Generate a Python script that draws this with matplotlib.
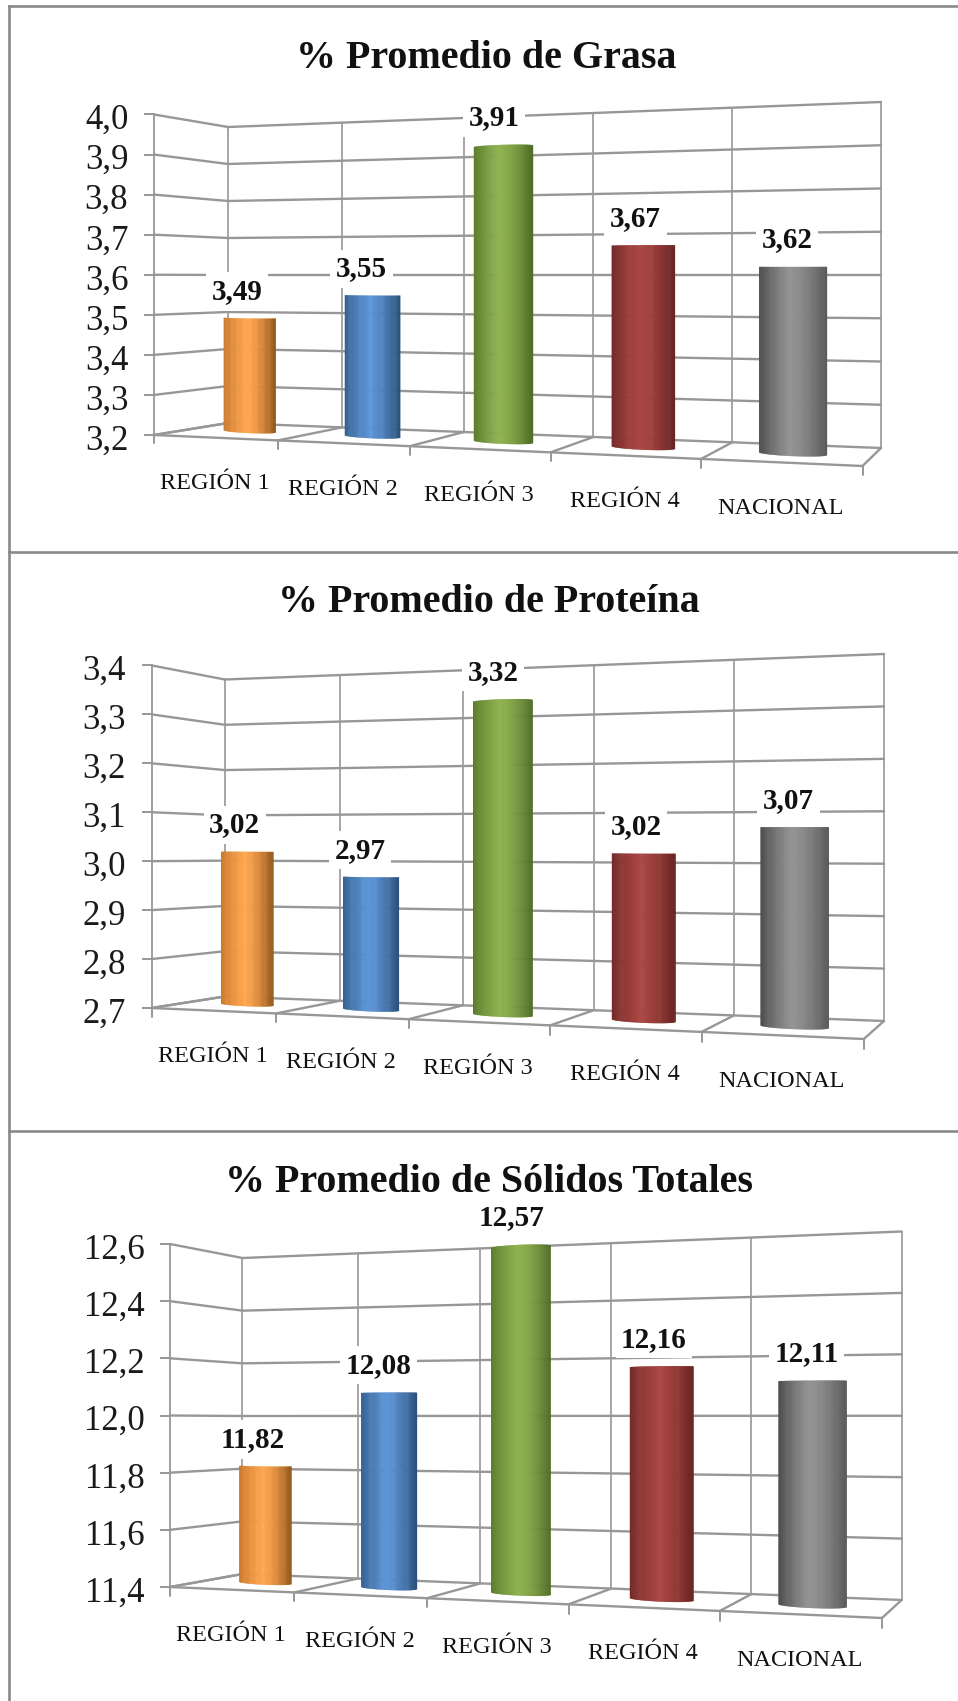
import numpy as np
import matplotlib
matplotlib.use("Agg")
import matplotlib.pyplot as plt
from matplotlib.transforms import Transform, ScaledTranslation

# ---------- data ----------
categories = ["REGIÓN 1", "REGIÓN 2", "REGIÓN 3", "REGIÓN 4", "NACIONAL"]
grasa = [3.49, 3.55, 3.91, 3.67, 3.62]
proteina = [3.02, 2.97, 3.32, 3.02, 3.07]
solidos = [11.82, 12.08, 12.57, 12.16, 12.11]
grasa_ticks = [3.2, 3.3, 3.4, 3.5, 3.6, 3.7, 3.8, 3.9, 4.0]
proteina_ticks = [2.7, 2.8, 2.9, 3.0, 3.1, 3.2, 3.3, 3.4]
solidos_ticks = [11.4, 11.6, 11.8, 12.0, 12.2, 12.4, 12.6]
titles = ["% Promedio de Grasa", "% Promedio de Proteína", "% Promedio de Sólidos Totales"]

# ---------- style ----------
W, H = 958, 1701
GRID = "#979797"
BORDER = "#8a8a8a"
FONT = "Liberation Serif"
# left edge, highlight, right edge of each cylinder
bar_shades = [
    ("#c9772c", "#ffa64f", "#935719"),
    ("#33608f", "#5d95d6", "#2b4f7a"),
    ("#5a7a2c", "#8fb350", "#4f6a24"),
    ("#742a28", "#aa4643", "#672422"),
    ("#4a4a4a", "#949494", "#5a5a5a"),
]
PERSPECTIVE = 1.18
BAR_WIDTH = 0.435
BAR_DEPTH = 0.5
BAR_RADIUS = 0.14
LABEL_DEPTH = 0.65

boxes = [
    dict(xfl=154, yfb=435, yft=114.5, xbl=228, ybb=423, ybt=127,
         xbr=881, ybb2=448, ybt2=102, xfr=862.5, yfb2=466,
         title_xy=(486.5, 59)),
    dict(xfl=151.5, yfb=1008, yft=665.4, xbl=224.8, ybb=996.5, ybt=679.5,
         xbr=884, ybb2=1021, ybt2=654, xfr=863.8, yfb2=1039,
         title_xy=(489, 603)),
    dict(xfl=170, yfb=1587, yft=1244, xbl=242.5, ybb=1574, ybt=1258,
         xbr=901.6, ybb2=1600, ybt2=1231.5, xfr=882, yfb2=1618,
         title_xy=(488.5, 1182.5)),
]


class Persp(Transform):
    """(category position, value) at a given depth -> figure fraction.
    With cat set, the input is (depth, value) on that category's plane."""
    input_dims = 2
    output_dims = 2

    def __init__(self, box, vmin, vmax, dx=0.0, dy=None, cat=None):
        super().__init__()
        self.b, self.vmin, self.vmax = box, vmin, vmax
        self.dx, self.dy, self.cat = dx, (dx if dy is None else dy), cat

    def transform_non_affine(self, xy):
        xy = np.asarray(xy, float)
        b = self.b
        a, val = xy[:, 0], xy[:, 1]
        if self.cat is None:
            c = a
            dx, dy = self.dx, self.dy
        else:
            c = np.full_like(a, self.cat)
            dx = dy = a
        t = c / 5.0
        u = t / (t + PERSPECTIVE * (1 - t))
        x_back = b["xbl"] + (b["xbr"] - b["xbl"]) * u
        x_front = b["xfl"] + (b["xfr"] - b["xfl"]) * u
        x = x_back + (x_front - x_back) * dx
        ratio = (b["yfb"] - b["yft"]) / (b["ybb"] - b["ybt"]) + 0.012
        yft2 = b["yfb2"] - ratio * (b["ybb2"] - b["ybt2"])
        bot_back = b["ybb"] + (b["ybb2"] - b["ybb"]) * u
        top_back = b["ybt"] + (b["ybt2"] - b["ybt"]) * u
        bot_front = b["yfb"] + (b["yfb2"] - b["yfb"]) * u
        top_front = b["yft"] + (yft2 - b["yft"]) * u
        bot = bot_back + (bot_front - bot_back) * dy
        top = top_back + (top_front - top_back) * dy
        f = (val - self.vmin) / (self.vmax - self.vmin)
        y = bot + (top - bot) * f
        return np.column_stack([x / W, 1 - y / H])


def hex2rgb(h):
    return np.array(matplotlib.colors.to_rgb(h))


def shade(s, cols):
    """s in [-1, 1] across the cylinder."""
    c0, c1, c2 = (hex2rgb(c) for c in cols)
    peak = -0.1
    if s < peak:
        f = (s + 1) / (peak + 1)
        return c0 + (c1 - c0) * f ** 0.8
    f = (s - peak) / (1 - peak)
    return c1 + (c2 - c1) * f ** 1.5


fig = plt.figure(figsize=(W / 100, H / 100), dpi=100, facecolor="white")


def draw_panel(box, values, ticks, title):
    vmin, vmax = ticks[0], ticks[-1]
    ax = fig.add_axes([box["xfl"] / W, 1 - box["yfb"] / H,
                       (box["xbr"] - box["xfl"]) / W, (box["yfb"] - box["yft"]) / H])
    ax.patch.set_visible(False)
    ax.set_xlim(0, 5)
    ax.set_ylim(vmin, vmax)
    for side in ("top", "right", "bottom"):
        ax.spines[side].set_visible(False)
    ax.spines["left"].set_color(GRID)
    ax.spines["left"].set_linewidth(1.3)
    ax.set_xticks([])
    ax.set_yticks(ticks, [f"{v:.1f}".replace(".", ",") for v in ticks])
    ax.tick_params(axis="y", length=7, width=1.4, color=GRID, pad=11.5,
                   labelsize=25, labelcolor="#1a1a1a")
    nudge = ScaledTranslation(0, -1.5 / 72, fig.dpi_scale_trans)
    for lab in ax.get_yticklabels():
        lab.set_fontfamily(FONT)
        lab.set_transform(lab.get_transform() + nudge)

    def T(dx=0.0, dy=None, cat=None):
        return Persp(box, vmin, vmax, dx, dy, cat) + fig.transFigure

    line = dict(color=GRID, clip_on=False, zorder=1, solid_capstyle="round")
    for v in ticks:
        ax.plot([0, 5], [v, v], lw=1.7, transform=T(0.0), **line)
        ax.plot([1, 0], [v, v], lw=1.7, transform=T(cat=0), **line)
    for i in range(6):
        ax.plot([i, i], [vmin, vmax], lw=1.2, transform=T(0.0), **line)
        ax.plot([0, 1], [vmin, vmin], lw=1.7, transform=T(cat=i), **line)
        ax.plot([i, i], [vmin, vmin - 0.025 * (vmax - vmin)], lw=1.4,
                transform=T(1.0), **line)
    ax.plot([0, 5], [vmin, vmin], lw=1.7, transform=T(1.0), **line)

    n = 60
    for i, (val, cols) in enumerate(zip(values, bar_shades)):
        center = i + 0.5
        for k in range(n):
            s = -1 + (k + 0.5) * 2 / n
            off = s * BAR_WIDTH / 2
            depth = BAR_DEPTH + BAR_RADIUS * np.sqrt(max(1 - s * s, 0))
            ax.bar(center + off, val - vmin, bottom=vmin,
                   width=BAR_WIDTH / n * 1.6, color=[shade(s, cols)], linewidth=0,
                   transform=T(BAR_DEPTH, depth), clip_on=False, zorder=3, snap=False)
        ax.annotate(f"{val:.2f}".replace(".", ","), xy=(center, val),
                    xycoords=T(LABEL_DEPTH), xytext=(-2, 27),
                    textcoords="offset pixels", ha="center", va="center",
                    fontsize=21, fontweight="bold", family=FONT, color="#111111",
                    bbox=dict(facecolor="white", edgecolor="none", pad=4),
                    annotation_clip=False, zorder=6)
        ax.annotate(categories[i], xy=(center, vmin), xycoords=T(1.0),
                    xytext=(0, -46), textcoords="offset pixels",
                    ha="center", va="center", fontsize=17.5, family=FONT,
                    color="#111111", annotation_clip=False, zorder=6)

    x, y = box["title_xy"]
    fig.text(x / W, 1 - y / H, title, ha="center", va="center",
             fontsize=28.8, fontweight="bold", family=FONT, color="#111111")


draw_panel(boxes[0], grasa, grasa_ticks, titles[0])
draw_panel(boxes[1], proteina, proteina_ticks, titles[1])
draw_panel(boxes[2], solidos, solidos_ticks, titles[2])

# panel frame: left rule and horizontal separators
for y in (6.5, 552.5, 1131):
    fig.add_artist(plt.Line2D([9 / W, 1], [1 - y / H, 1 - y / H], color=BORDER, lw=1.9,
                              transform=fig.transFigure))
fig.add_artist(plt.Line2D([9 / W, 9 / W], [0, 1 - 6.5 / H], color=BORDER, lw=1.9,
                          transform=fig.transFigure))

fig.savefig("out.png", dpi=100, facecolor="white")
